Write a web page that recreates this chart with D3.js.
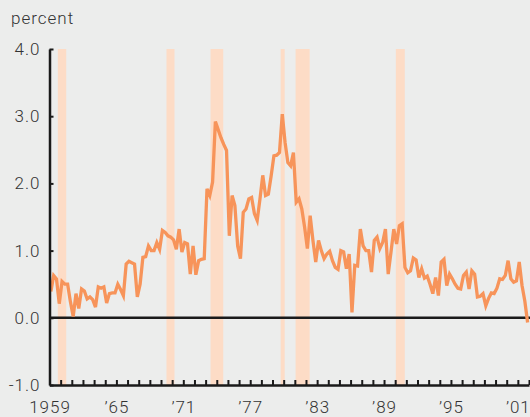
<!DOCTYPE html>
<html>
<head>
<meta charset="utf-8">
<script src="https://cdn.jsdelivr.net/npm/d3@7"></script>
<style>
  html, body { margin: 0; padding: 0; background: #ECEDEC; }
  svg { display: block; }
  text { font-family: Roboto, "Liberation Sans", sans-serif; font-weight: 300; fill: #333; letter-spacing: 1px; }
</style>
</head>
<body>
<svg id="chart" width="530" height="417"></svg>
<script>
// Quarterly values, 1959Q1 onward (percent)
const startYear = 1959;
const values = [
  0.39, 0.63, 0.58, 0.21, 0.54, 0.50, 0.50, 0.24, 0.02, 0.36,
  0.14, 0.43, 0.40, 0.28, 0.31, 0.27, 0.16, 0.46, 0.44, 0.46,
  0.22, 0.36, 0.37, 0.37, 0.50, 0.42, 0.33, 0.80, 0.84, 0.82,
  0.80, 0.31, 0.50, 0.90, 0.91, 1.07, 1.00, 1.00, 1.12, 1.02,
  1.30, 1.27, 1.22, 1.20, 1.16, 1.02, 1.32, 0.98, 1.12, 1.10,
  0.65, 1.07, 0.64, 0.85, 0.87, 0.88, 1.92, 1.82, 2.02, 2.92,
  2.80, 2.68, 2.58, 2.49, 1.22, 1.82, 1.67, 1.07, 0.88, 1.57,
  1.62, 1.77, 1.79, 1.55, 1.45, 1.77, 2.12, 1.82, 1.84, 2.11,
  2.41, 2.42, 2.46, 3.03, 2.61, 2.31, 2.26, 2.46, 1.72, 1.77,
  1.62, 1.35, 1.03, 1.52, 1.15, 0.83, 1.15, 1.00, 0.88, 0.95,
  0.99, 0.85, 0.75, 0.72, 1.00, 0.98, 0.73, 0.95, 0.08, 0.78,
  0.77, 1.32, 1.07, 1.00, 1.00, 0.68, 1.15, 1.20, 1.03, 1.12,
  1.32, 0.65, 0.98, 1.32, 1.10, 1.37, 1.40, 0.75, 0.67, 0.70,
  0.89, 0.86, 0.60, 0.73, 0.59, 0.62, 0.50, 0.36, 0.60, 0.33,
  0.83, 0.87, 0.48, 0.65, 0.58, 0.50, 0.44, 0.43, 0.63, 0.68,
  0.43, 0.70, 0.65, 0.31, 0.32, 0.36, 0.18, 0.29, 0.37, 0.36,
  0.44, 0.58, 0.57, 0.63, 0.85, 0.58, 0.53, 0.55, 0.83, 0.48,
  0.25, -0.07
];
// Recession shading, decimal years [start, end]
const recessions = [
  [1959.75, 1960.50],
  [1969.49, 1970.21],
  [1973.44, 1974.58],
  [1979.73, 1980.09],
  [1981.07, 1982.33],
  [1990.06, 1990.86]
];
const yTicks = [-1, 0, 1, 2, 3, 4];
const yLabels = ["-1.0", "0.0", "1.0", "2.0", "3.0", "4.0"];
const xLabelYears = [1959, 1965, 1971, 1977, 1983, 1989, 1995, 2001];
const xLabels = ["1959", "\u201965", "\u201971", "\u201977", "\u201983", "\u201989", "\u201995", "\u201901"];

const svg = d3.select("#chart");
const x = d3.scaleLinear().domain([1959, 2002]).range([49.5, 529]);
const y = d3.scaleLinear().domain([-1, 4]).range([385, 49]);

// recession bars
svg.append("g").selectAll("rect").data(recessions).join("rect")
  .attr("x", d => x(d[0]))
  .attr("width", d => x(d[1]) - x(d[0]))
  .attr("y", y(4))
  .attr("height", y(-1) - y(4))
  .attr("fill", "#FDDCC6");

// zero line
svg.append("line")
  .attr("x1", x(1959)).attr("x2", 530)
  .attr("y1", y(0)).attr("y2", y(0))
  .attr("stroke", "#1a1a1a").attr("stroke-width", 2.5);

// data line
const line = d3.line()
  .x((d, i) => x(startYear + (i + 0.5) / 4))
  .y(d => y(d));
svg.append("path")
  .datum(values)
  .attr("d", line)
  .attr("fill", "none")
  .attr("stroke", "#F7945A")
  .attr("stroke-width", 3.3)
  .attr("stroke-linejoin", "miter");

// x axis
const xAxis = d3.axisBottom(x)
  .tickValues(d3.range(1959, 2003))
  .tickSize(-5)
  .tickSizeOuter(0)
  .tickPadding(16)
  .tickFormat(d => { const k = xLabelYears.indexOf(d); return k >= 0 ? xLabels[k] : ""; });
const gx = svg.append("g").attr("transform", `translate(0,${y(-1)})`).call(xAxis);
gx.select(".domain").attr("stroke", "#1a1a1a").attr("stroke-width", 2.5);
gx.selectAll(".tick line").attr("stroke", "#1a1a1a").attr("stroke-width", 2);
gx.selectAll(".tick text").attr("font-size", 17).attr("fill", "#333")
  .attr("font-family", "Roboto, sans-serif").attr("font-weight", 300);

// y axis
const yAxis = d3.axisLeft(y)
  .tickValues(yTicks)
  .tickSize(-4)
  .tickSizeOuter(0)
  .tickPadding(9)
  .tickFormat(d => yLabels[yTicks.indexOf(d)]);
const gy = svg.append("g").attr("transform", `translate(${x(1959)},0)`).call(yAxis);
gy.select(".domain").attr("stroke", "#1a1a1a").attr("stroke-width", 2.5);
gy.selectAll(".tick line").attr("stroke", "#1a1a1a").attr("stroke-width", 2);
gy.selectAll(".tick text").attr("font-size", 17).attr("fill", "#333")
  .attr("font-family", "Roboto, sans-serif").attr("font-weight", 300);

// unit label
svg.append("text").attr("x", 11).attr("y", 24)
  .attr("font-size", 17).text("percent");
</script>
</body>
</html>
